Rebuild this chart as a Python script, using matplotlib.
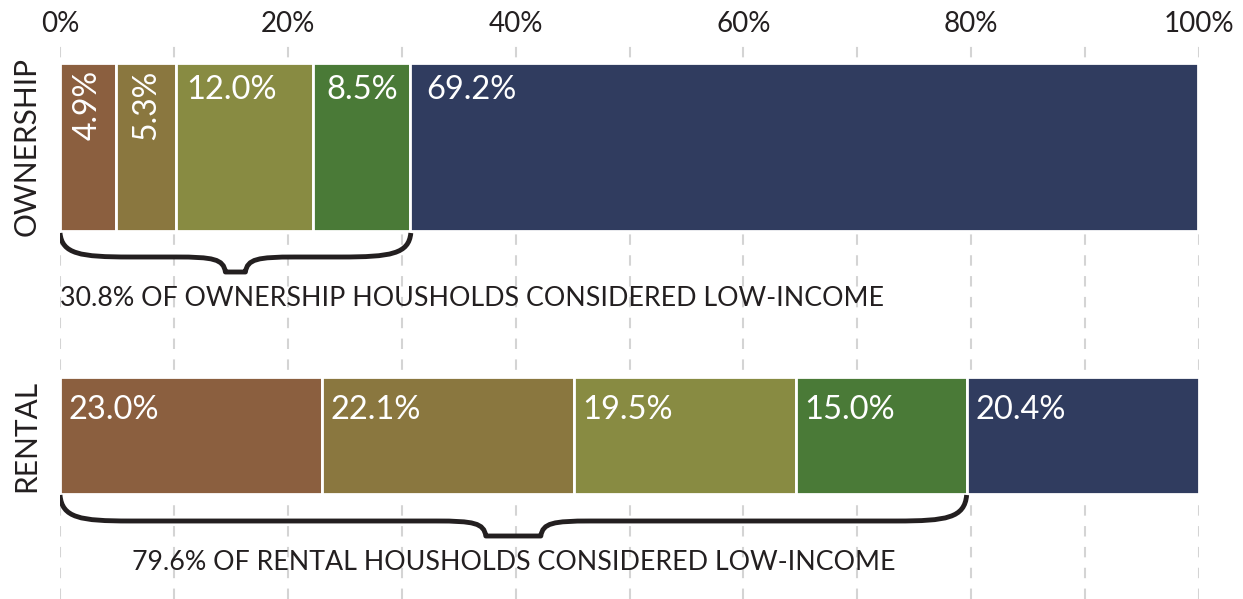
import matplotlib
matplotlib.use("Agg")
import matplotlib.pyplot as plt
from matplotlib.path import Path
from matplotlib.patches import PathPatch

# ---- data ----
groups = ["OWNERSHIP", "RENTAL"]
ownership = [4.9, 5.3, 12.0, 8.5, 69.2]
rental = [23.0, 22.1, 19.5, 15.0, 20.4]
ownership_labels = ["4.9%", "5.3%", "12.0%", "8.5%", "69.2%"]
rental_labels = ["23.0%", "22.1%", "19.5%", "15.0%", "20.4%"]
low_income = [30.8, 79.6]
notes = ["30.8% OF OWNERSHIP HOUSHOLDS CONSIDERED LOW-INCOME",
         "79.6% OF RENTAL HOUSHOLDS CONSIDERED LOW-INCOME"]
xticks = [0, 20, 40, 60, 80, 100]
xtick_labels = ["0%", "20%", "40%", "60%", "80%", "100%"]

colors = ["#8B5F3F", "#8A773F", "#888B42", "#4A7A37", "#303C5F"]
FONT = ["Lato", "DejaVu Sans"]
plt.rcParams['font.family'] = FONT

W, H = 1243, 599
fig = plt.figure(figsize=(W / 100, H / 100), dpi=100)
ax = fig.add_axes([60 / W, 0, 1139 / W, (H - 40) / H])
ax.set_xlim(0, 100)
ax.set_ylim(H - 40, 0)   # y in pixel-like units from axes top

PX = 100 / 1139  # one pixel in x data units

# layout (pixel units from axes top)
centers = [107, 395.5]
heights = [168, 117]
label_pad = [[0, 0, 10, 14, 17], [8, 9, 9, 8, 9]]

for xv in range(0, 101, 10):
    ax.axvline(xv, color="#D4D4D4", lw=1.5, ls=(0, (5, 5)), zorder=0)

for gi, (vals, labs) in enumerate([(ownership, ownership_labels), (rental, rental_labels)]):
    left = 0
    yc, h = centers[gi], heights[gi]
    top = yc - h / 2
    for i, (v, lab) in enumerate(zip(vals, labs)):
        ax.barh(yc, v, left=left, height=h, color=colors[i],
                edgecolor="white", linewidth=2, zorder=2)
        if gi == 0 and i < 2:
            ax.text(left + v / 2, top + 7, lab, rotation=90, ha="center", va="top",
                    color="white", fontsize=23, zorder=3)
        else:
            ax.text(left + label_pad[gi][i] * PX, top + (27 if gi == 0 else 33), lab,
                    ha="left", va="center", color="white", fontsize=23.5, zorder=3)
        left += v


def brace(ax, x0, x1, ytop, ymid, ytip, tipw, lw):
    xc = (x0 + x1) / 2
    a = tipw / 2
    verts = [
        (x0, ytop), (x0 + 2 * PX, ymid - 3), (x0 + 20 * PX, ymid), (x0 + 70 * PX, ymid),
        (xc - a - 50 * PX, ymid),
        (xc - a - 12 * PX, ymid), (xc - a - 2 * PX, ymid + 2), (xc - a, ytip),
        (xc + a, ytip),
        (xc + a + 2 * PX, ymid + 2), (xc + a + 12 * PX, ymid), (xc + a + 50 * PX, ymid),
        (x1 - 70 * PX, ymid),
        (x1 - 20 * PX, ymid), (x1 - 2 * PX, ymid - 3), (x1, ytop),
    ]
    codes = [Path.MOVETO, Path.CURVE4, Path.CURVE4, Path.CURVE4,
             Path.LINETO,
             Path.CURVE4, Path.CURVE4, Path.CURVE4,
             Path.LINETO,
             Path.CURVE4, Path.CURVE4, Path.CURVE4,
             Path.LINETO,
             Path.CURVE4, Path.CURVE4, Path.CURVE4]
    ax.add_patch(PathPatch(Path(verts, codes), fill=False, edgecolor="#231F20",
                           lw=lw, capstyle="butt", joinstyle="round", zorder=3))


brace(ax, 0, low_income[0], 193, 217, 232, 20 * PX, 3.5)
brace(ax, 0, low_income[1], 455, 481, 496, 55 * PX, 3.5)

ax.text(0, 258, notes[0], ha="left", va="center", fontsize=19.3, color="#231F20", zorder=3)
ax.text(low_income[1] / 2, 522, notes[1], ha="center", va="center", fontsize=19.3,
        color="#231F20", zorder=3)

ax.xaxis.tick_top()
ax.set_xticks(xticks)
ax.set_xticklabels(xtick_labels, fontsize=20, color="#231F20")
ax.set_yticks(centers)
ax.set_yticklabels(groups, rotation=90, va="center", fontsize=21.5, color="#231F20")
ax.tick_params(length=0, axis="x", pad=2)
ax.tick_params(length=0, axis="y", pad=14)
for s in ax.spines.values():
    s.set_visible(False)

fig.savefig("out.png", dpi=100)
